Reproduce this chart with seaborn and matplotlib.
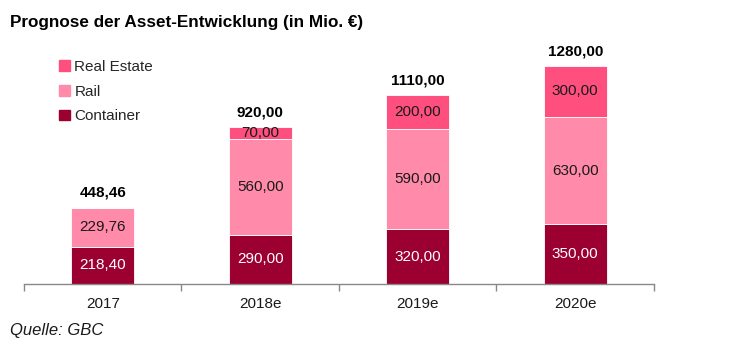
import matplotlib
matplotlib.use("Agg")
import matplotlib.pyplot as plt
import seaborn as sns
import pandas as pd
from matplotlib.patches import Patch

categories = ["2017", "2018e", "2019e", "2020e"]
container = [218.40, 290.00, 320.00, 350.00]
rail = [229.76, 560.00, 590.00, 630.00]
real_estate = [0.0, 70.00, 200.00, 300.00]
totals = [448.46, 920.00, 1110.00, 1280.00]

sns.set_theme(style="white")
plt.rcParams['font.family'] = ['Liberation Sans', 'DejaVu Sans']

c_cont = "#9B0031"
c_rail = "#FF8AA9"
c_re = "#FF4F7E"

fig = plt.figure(figsize=(7.29, 3.51), dpi=100)
ax = fig.add_axes([24/729, (351-284)/351, (654-24)/729, (284-30)/351])

df = pd.DataFrame({"cat": categories, "container": container, "rail": rail,
                   "re": real_estate, "total": totals})
df["b2"] = df["container"] + df["rail"]

sns.barplot(data=df, x="cat", y="container", color=c_cont, width=0.4, ax=ax,
            saturation=1, edgecolor="white", linewidth=0.6)
sns.barplot(data=df, x="cat", y="rail", bottom=df["container"], color=c_rail, width=0.4,
            ax=ax, saturation=1, edgecolor="white", linewidth=0.6)
sns.barplot(data=df, x="cat", y="re", bottom=df["b2"], color=c_re, width=0.4, ax=ax,
            saturation=1, edgecolor="white", linewidth=0.6)

fmt = lambda v: f"{v:.2f}".replace(".", ",")
for i in range(len(categories)):
    ax.text(i, container[i] / 2, fmt(container[i]), ha="center", va="center",
            color="white", fontsize=11)
    ax.text(i, container[i] + rail[i] / 2, fmt(rail[i]), ha="center", va="center",
            color="#1a1a1a", fontsize=11)
    if real_estate[i] > 0:
        ax.text(i, container[i] + rail[i] + real_estate[i] / 2, fmt(real_estate[i]),
                ha="center", va="center", color="#1a1a1a", fontsize=11)
    ax.text(i, totals[i] + 45, fmt(totals[i]), ha="center", va="bottom",
            color="black", fontsize=11, fontweight="bold")

ax.set_xlim(-0.5, 3.5)
ax.set_ylim(0, (284 - 30) / (218.3 / 1280))
ax.set_xlabel("")
ax.set_ylabel("")
ax.set_yticks([])
for s in ["top", "right", "left"]:
    ax.spines[s].set_visible(False)
ax.spines["bottom"].set_color("#888888")
ax.spines["bottom"].set_linewidth(1.0)
ax.set_xticks([0, 1, 2, 3])
ax.set_xticklabels(categories, fontsize=11, color="#1a1a1a")
ax.set_xticks([-0.5, 0.5, 1.5, 2.5, 3.5], minor=True)
ax.tick_params(axis="x", which="major", length=0, pad=9)
ax.tick_params(axis="x", which="minor", length=5, width=1, color="#888888", bottom=True)

handles = [Patch(color=c_re, label="Real Estate"), Patch(color=c_rail, label="Rail"),
           Patch(color=c_cont, label="Container")]
fig.legend(handles=handles, loc="upper left", bbox_to_anchor=(59/729, 1 - 60/351),
           frameon=False, fontsize=11, handlelength=0.7, handleheight=0.7,
           handletextpad=0.3, labelspacing=0.7, borderpad=0, borderaxespad=0)

fig.text(10/729, 1 - 22/351, "Prognose der Asset-Entwicklung (in Mio. €)", fontsize=12.3,
         fontweight="bold", ha="left", va="center", color="black")
fig.text(10/729, 1 - 330/351, "Quelle: GBC", fontsize=12, style="italic",
         ha="left", va="center", color="#1a1a1a")

fig.savefig("out.png", dpi=100)
